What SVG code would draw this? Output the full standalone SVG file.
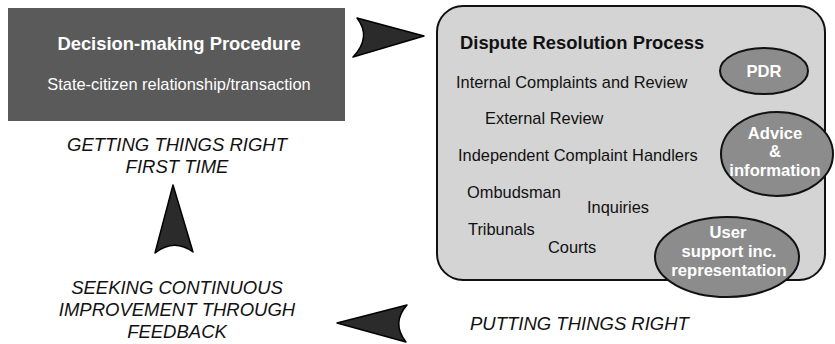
<svg xmlns="http://www.w3.org/2000/svg" width="835" height="344" viewBox="0 0 835 344">
<defs>
<style>
text{font-family:"Liberation Sans",Arial,sans-serif;}
.t{font-size:16.4px;fill:#111;}
.b{font-weight:bold;}
.w{fill:#fff;font-weight:bold;font-size:16.6px;text-anchor:middle;}
.i{font-style:italic;font-size:18.5px;fill:#111;text-anchor:middle;}
.ell{fill:#8c8c8c;stroke:#111;stroke-width:2;}
.arr{fill:#2b2b2b;stroke:#000;stroke-width:1.5;stroke-linejoin:round;}
</style>
</defs>
<rect width="835" height="344" fill="#fff"/>
<g id="decision">
<rect x="8" y="8" width="337" height="113" fill="#5a5a5a"/>
<text x="179" y="50" class="w" style="font-size:18.4px">Decision-making Procedure</text>
<text x="179" y="90" style="fill:#fff;font-size:16.4px;text-anchor:middle">State-citizen relationship/transaction</text>
</g>
<g id="dispute">
<rect x="437" y="6" width="388" height="274" rx="26" ry="26" fill="#d4d4d4" stroke="#111" stroke-width="2"/>
<text x="460" y="49" class="t b" style="font-size:18.4px">Dispute Resolution Process</text>
<text x="456" y="88" class="t">Internal Complaints and Review</text>
<text x="485" y="124" class="t">External Review</text>
<text x="458" y="161" class="t">Independent Complaint Handlers</text>
<text x="467" y="198" class="t">Ombudsman</text>
<text x="587" y="213" class="t">Inquiries</text>
<text x="468" y="235" class="t">Tribunals</text>
<text x="548" y="253" class="t">Courts</text>
</g>
<g id="pdr">
<ellipse cx="764" cy="71" rx="44" ry="23" class="ell"/>
<text x="764" y="77" class="w">PDR</text>
</g>
<g id="advice">
<ellipse cx="777" cy="154" rx="56" ry="42" class="ell"/>
<text x="775" y="139" class="w">Advice</text>
<text x="775" y="157" class="w">&amp;</text>
<text x="775" y="176" class="w">information</text>
</g>
<g id="user">
<ellipse cx="727" cy="257" rx="72" ry="40" class="ell"/>
<text x="728" y="238" class="w">User</text>
<text x="729" y="257" class="w">support inc.</text>
<text x="729" y="276" class="w">representation</text>
</g>
<g id="labels">
<text x="177" y="151" class="i">GETTING THINGS RIGHT</text>
<text x="177" y="173" class="i">FIRST TIME</text>
<text x="177" y="294" class="i">SEEKING CONTINUOUS</text>
<text x="177" y="316" class="i">IMPROVEMENT THROUGH</text>
<text x="177" y="338" class="i">FEEDBACK</text>
<text x="470" y="330" class="i" style="text-anchor:start">PUTTING THINGS RIGHT</text>
</g>
<g id="connectors">
<path class="arr" d="M357,18 L424,36 L353,57 Q372,37 357,18 Z"/>
<path class="arr" d="M173,185 L193,252 Q174,238 155,253 Z"/>
<path class="arr" d="M337,323 L407,305 Q391,323 406,342 Z"/>
</g>
</svg>
